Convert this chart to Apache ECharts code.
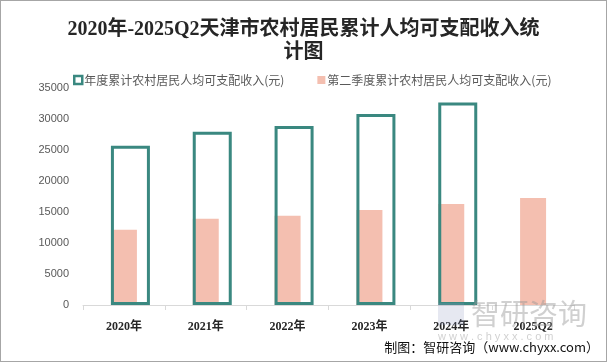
<!DOCTYPE html>
<html><head><meta charset="utf-8">
<script src="https://cdn.jsdelivr.net/npm/echarts@6/dist/echarts.min.js"></script>
<style>html,body{margin:0;padding:0;background:#fff}#c{width:605px;height:360px;border:1px solid #a6a6a6}</style>
</head><body><div id="c"></div>
<script>
const categories = ['2020年','2021年','2022年','2023年','2024年','2025Q2'];
const annualIncome = [25691, 27955, 28869, 30809, 32680, null];
const q2Income = [12150, 13900, 14380, 15340, 16300, 17260];
const yTicks = {min: 0, max: 35000, interval: 5000};
const seriesNames = ['年度累计农村居民人均可支配收入(元)', '第二季度累计农村居民人均可支配收入(元)'];

const chart = echarts.init(document.getElementById('c'));
chart.setOption({
  animation: false,
  backgroundColor: '#fff',
  title: {
    text: '2020年-2025Q2天津市农村居民累计人均可支配收入统\n计图',
    left: 'center', top: 12,
    textStyle: {fontFamily: 'Liberation Serif, Noto Sans CJK SC', fontWeight: 'bold', fontSize: 20, color: '#262626', lineHeight: 23, align: 'center'}
  },
  legend: {
    top: 68, left: 67, itemGap: 33, itemWidth: 8, itemHeight: 8,
    textStyle: {fontSize: 12, color: '#595959', fontFamily: 'Noto Sans CJK SC', padding: [0, 0, 0, -3]},
    data: [
      {name: seriesNames[0], icon: 'rect', itemStyle: {color: '#fff', borderColor: '#3A8880', borderWidth: 2.5}},
      {name: seriesNames[1], icon: 'rect'}
    ]
  },
  grid: {left: 82, right: 32, top: 87, bottom: 56},
  xAxis: {
    type: 'category', data: categories,
    axisLine: {lineStyle: {color: '#d9d9d9'}},
    axisTick: {show: true, length: 5, lineStyle: {color: '#d9d9d9'}},
    axisLabel: {color: '#262626', fontWeight: 'bold', fontSize: 12, margin: 16, fontFamily: 'Liberation Serif, Noto Sans CJK SC'}
  },
  yAxis: {
    type: 'value', min: yTicks.min, max: yTicks.max, interval: yTicks.interval,
    splitLine: {show: false}, axisLine: {show: false}, axisTick: {show: false},
    axisLabel: {color: '#595959', fontSize: 11, margin: 14, fontFamily: 'Liberation Sans', formatter: v => String(v)}
  },
  series: [
    {name: seriesNames[0], type: 'bar', data: annualIncome, barWidth: 39, barGap: '-100%',
     itemStyle: {color: 'rgba(255,255,255,0)', borderColor: '#3A8880', borderWidth: 3}, z: 3},
    {name: seriesNames[1], type: 'bar', data: q2Income, barWidth: 26,
     itemStyle: {color: '#F4BFB0'}, z: 2}
  ],
  graphic: [
    {type: 'text', left: 470, top: 298, z: 10, style: {text: '智研咨询', fontSize: 29, fill: 'rgba(150,150,150,0.45)', fontFamily: 'Noto Sans CJK SC'}},
    {type: 'text', left: 437, top: 330, z: 10, style: {text: 'w w w . c h y x x . c o m', fontSize: 11, fill: 'rgba(150,150,150,0.45)', fontFamily: 'Liberation Sans'}},
    {type: 'rect', left: 437, top: 302, z: 10, shape: {width: 26, height: 22}, style: {fill: 'rgba(140,150,190,0.22)'}},
    {type: 'text', right: 7, top: 340, z: 10, style: {text: '制图：智研咨询（www.chyxx.com）', fontSize: 13, fill: '#111', fontFamily: 'Noto Sans CJK SC'}}
  ]
});
</script></body></html>
